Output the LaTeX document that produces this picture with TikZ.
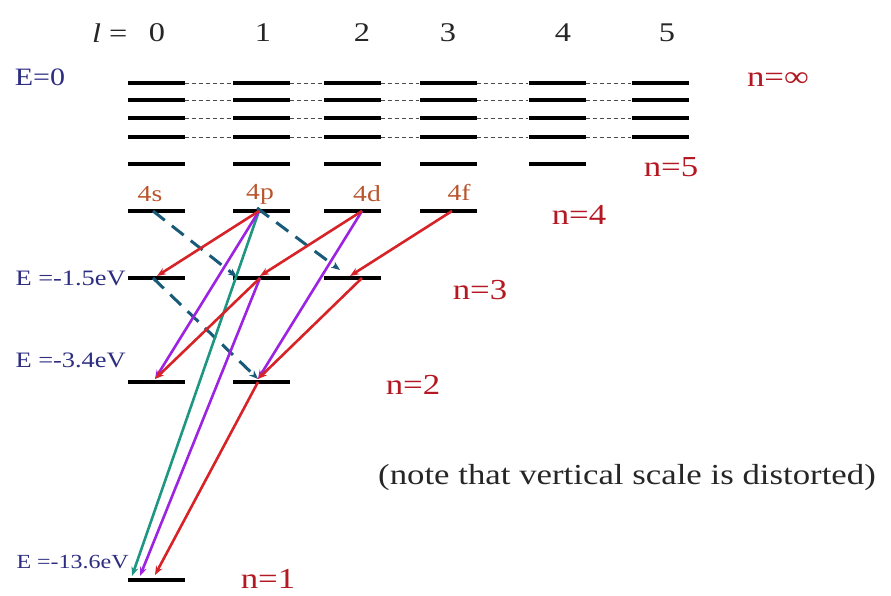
\documentclass[tikz,border=0pt]{standalone}
\usepackage{fontspec}
\setmainfont{Liberation Serif}[FakeStretch=1.2]
\usepackage{tikz}
\usetikzlibrary{arrows.meta}
\definecolor{hblue}{RGB}{45,45,130}
\definecolor{hred}{RGB}{180,25,35}
\definecolor{horange}{RGB}{185,85,45}
\definecolor{hdecay}{RGB}{215,35,40}
\definecolor{hviolet}{RGB}{155,35,225}
\definecolor{hteal}{RGB}{30,150,130}
\definecolor{hdash}{RGB}{25,90,120}

\begin{document}
\begin{tikzpicture}[x=1pt, y=-1pt,
  orbit/.style={rectangle, fill=black, minimum width=57pt, minimum height=3.5pt, inner sep=0pt},
  gap/.style={draw=black!70, line width=0.9pt, dash pattern=on 4pt off 3pt},
  elab/.style={text=hblue, font=\fontsize{22}{24}\selectfont},
  nlab/.style={text=hred, font=\fontsize{29}{31}\selectfont},
  sublab/.style={text=horange, font=\fontsize{23}{25}\selectfont},
  llab/.style={text=black!85, font=\fontsize{27}{29}\selectfont},
  jump/.style={-{Stealth[length=9pt,width=7pt]}, line width=2.6pt},
  forbid/.style={jump, draw=hdash, line width=3pt, dash pattern=on 15pt off 9pt}]
  \useasboundingbox (0,0) rectangle (891,596);
  % l values
  \node[llab, anchor=east] (lsym) at (131,33) {\textit{l} =};
  \foreach \c/\x in {0/157,1/263,2/362,3/448,4/563,5/667}
    \node[llab] (lnum\c) at (\x,33) {\c};
  % Levels near the continuum
  \foreach \r/\y in {1/83,2/100,3/118,4/137} {
    \foreach \c/\x in {0/156,1/261,2/352,3/448,4/557,5/660}
      \node[orbit] (top\r\c) at (\x,\y) {};
    \foreach \c [evaluate=\c as \d using int(\c+1)] in {0,...,4}
      \draw[gap] (top\r\c.east) -- (top\r\d.west);
  }
  % Levels n=5 ... n=1
  \foreach \n/\y/\m in {5/164/4,4/211/3,3/278/2,2/382/1,1/580/0}
    \foreach \c in {0,...,\m} {
      \pgfmathsetmacro\x{{156,261,352,448,557,660}[\c]}
      \node[orbit] (lvl\n\c) at (\x,\y) {};
    }
  % Energies
  \node[elab, font=\fontsize{25}{27}\selectfont] (ezero) at (40,77) {E=0};
  \node[elab, anchor=west] (ethree) at (12,278) {E =-1.5eV};
  \node[elab, anchor=west] (etwo) at (12,360) {E =-3.4eV};
  \node[elab, anchor=west, font=\fontsize{20}{22}\selectfont] (eone) at (13,562) {E =-13.6eV};
  % Subshells
  \node[sublab] (sub4s) at (150,194) {4s};
  \node[sublab] (sub4p) at (260,194) {4p};
  \node[sublab] (sub4d) at (367,194) {4d};
  \node[sublab] (sub4f) at (459,192) {4f};
  % Principal numbers
  \node[nlab] (ninf) at (778,80) {n=∞};
  \node[nlab] (nfive) at (671,167) {n=5};
  \node[nlab] (nfour) at (579,215) {n=4};
  \node[nlab] (nthree) at (480,290) {n=3};
  \node[nlab] (ntwo) at (413,385) {n=2};
  \node[nlab] (none) at (268,579) {n=1};
  \node[text=black!85, font=\fontsize{29}{31}\selectfont] (note) at (627,478)
    {(note that vertical scale is distorted)};
  % Forbidden transitions
  \draw[forbid] ([xshift=-3pt]lvl40.center) -- ([xshift=-24pt,yshift=1pt]lvl31.center);
  \draw[forbid] ([xshift=-4pt,yshift=3pt]lvl41.center) -- ([xshift=-12pt,yshift=8pt]lvl32.center);
  \draw[forbid] ([xshift=-3pt]lvl30.center) -- ([xshift=-3pt,yshift=3pt]lvl21.center);
  % Allowed transitions
  \draw[jump, hteal] ([xshift=-2pt]lvl41.center) -- ([xshift=-24pt,yshift=4pt]lvl10.center);
  \draw[jump, hviolet] ([xshift=-2pt]lvl41.center) -- ([xshift=-1pt,yshift=3pt]lvl20.center);
  \draw[jump, hviolet] ([xshift=10pt]lvl42.center) -- ([xshift=-3pt,yshift=3pt]lvl21.center);
  \draw[jump, hviolet] ([xshift=-1pt]lvl31.center) -- ([xshift=-16pt,yshift=4pt]lvl10.center);
  \draw[jump, hdecay] ([xshift=-2pt]lvl41.center) -- ([xshift=1pt,yshift=2pt]lvl30.center);
  \draw[jump, hdecay] ([xshift=10pt]lvl42.center) -- ([xshift=-1pt,yshift=2pt]lvl31.center);
  \draw[jump, hdecay] ([xshift=4pt]lvl43.center) -- ([xshift=-2pt,yshift=2pt]lvl32.center);
  \draw[jump, hdecay] ([xshift=-1pt]lvl31.center) -- ([xshift=-1pt,yshift=3pt]lvl20.center);
  \draw[jump, hdecay] ([xshift=10pt]lvl32.center) -- ([xshift=-3pt,yshift=3pt]lvl21.center);
  \draw[jump, hdecay] ([xshift=-3pt]lvl21.center) -- ([xshift=-1pt,yshift=5pt]lvl10.center);
\end{tikzpicture}
\end{document}
